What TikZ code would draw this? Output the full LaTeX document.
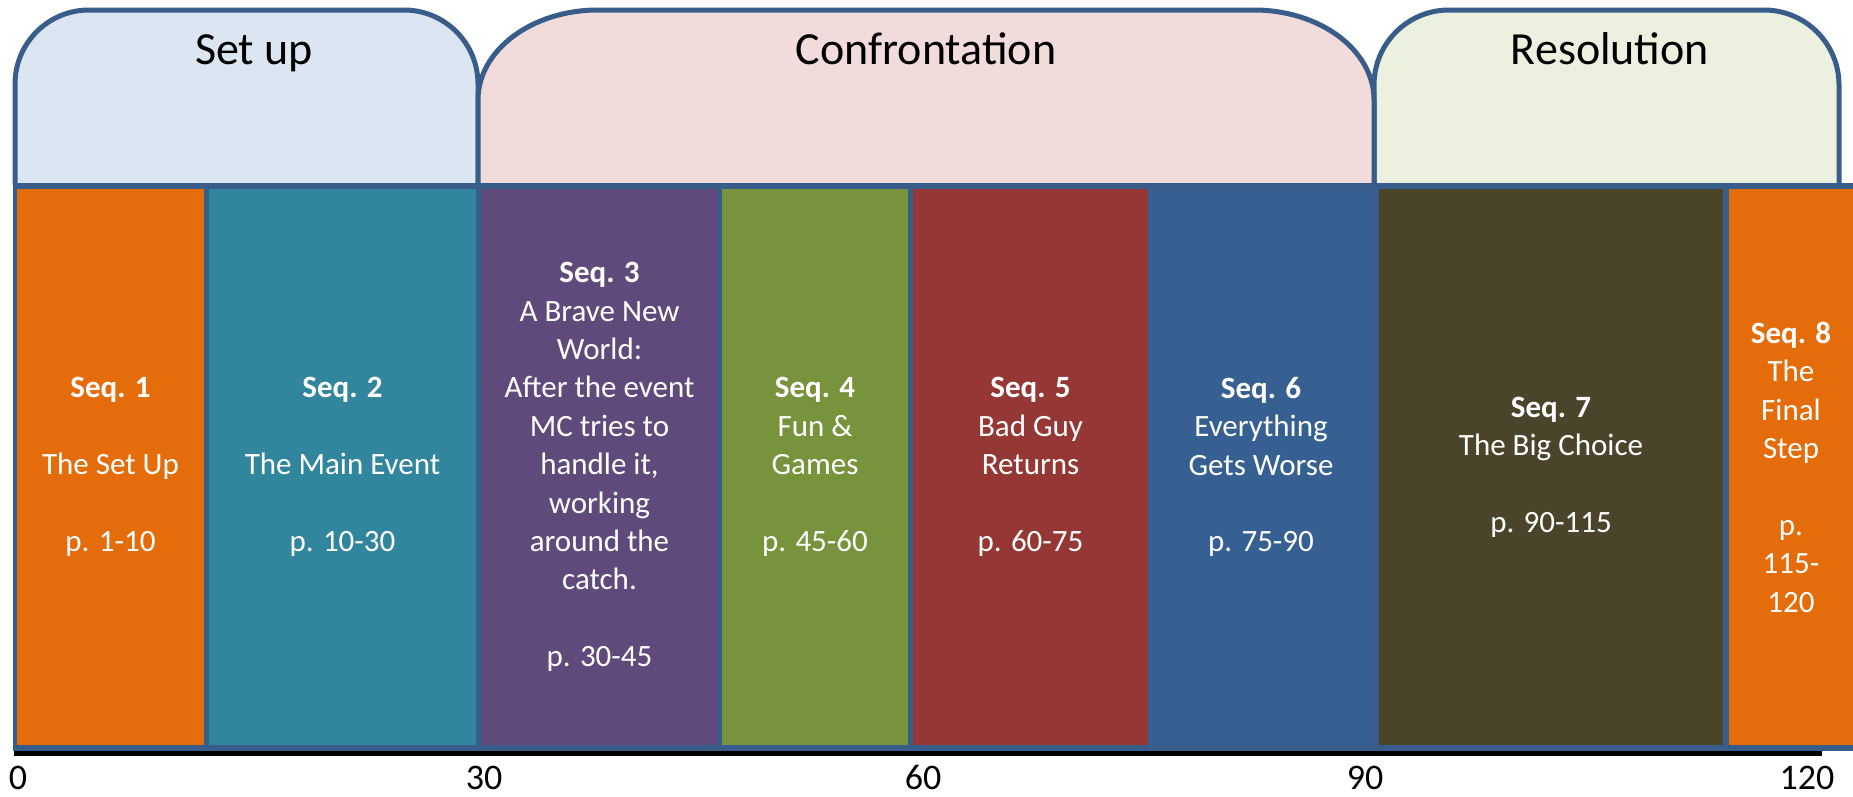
\documentclass[tikz,border=0pt]{standalone}
\usepackage{fontspec}
\setmainfont{Carlito}
\usepackage{xcolor}
\usepackage{tikz}

\definecolor{frameblue}{HTML}{385D8A}
\definecolor{setupfill}{HTML}{DCE6F2}
\definecolor{conffill}{HTML}{F2DCDB}
\definecolor{resfill}{HTML}{EBF1DE}
\definecolor{seqorange}{HTML}{E46C0A}
\definecolor{seqteal}{HTML}{31859C}
\definecolor{seqpurple}{HTML}{604A7B}
\definecolor{seqgreen}{HTML}{77933C}
\definecolor{seqred}{HTML}{953735}
\definecolor{seqblue}{HTML}{376092}
\definecolor{seqolive}{HTML}{4A452A}

\tikzset{
  tabline/.style={draw=frameblue,line width=5pt},
  actlabel/.style={anchor=base,font=\fontsize{46}{52}\selectfont},
  seqbox/.style={rectangle,inner sep=0pt,minimum height=556pt,text=white,
                 align=center,font=\fontsize{31}{38.4}\selectfont},
  ticklabel/.style={anchor=base,inner sep=1pt,font=\fontsize{36}{40}\selectfont}
}

\begin{document}
\begin{tikzpicture}[x=1pt,y=-1pt]
                    \useasboundingbox (0,0) rectangle (1853,796);

                    % the three acts
                    \draw[tabline,fill=setupfill,rounded corners=74pt] (15,185) |- (478,10) -- (478,185);
                    \draw[tabline,fill=resfill,rounded corners=75pt] (1374,185) |- (1839,10) -- (1839,185);
                    \draw[tabline,fill=conffill] (478,185) -- (478,100) .. controls (478,50.3) and (531.7,10) .. (598,10)
                        -- (1254,10) .. controls (1320.3,10) and (1374,50.3) .. (1374,100) -- (1374,185);

                    \node[actlabel] (setup) at (254,64) {Set up};
                    \node[actlabel] (confrontation) at (926,64) {Confrontation};
                    \node[actlabel] (resolution) at (1610,64) {Resolution};

                    % page axis
                    \draw[line width=5pt] (14,753) -- (1822,753);
                    \foreach \v/\x in {0/18,30/484,60/923,90/1365,120/1807}
                        \node[ticklabel] (tick\v) at (\x,789) {\v};

                    % band of sequences
                    \fill[frameblue] (13,183) rectangle (1860,751);
                    \node[seqbox,fill=seqorange,minimum width=187pt] (seq1) at (110.5,467) {\textbf{Seq. 1}\\[38.4pt]The Set Up\\[38.4pt]p. 1-10};
                    \node[seqbox,fill=seqteal,minimum width=267pt] (seq2) at (342.5,467) {\textbf{Seq. 2}\\[38.4pt]The Main Event\\[38.4pt]p. 10-30};
                    \node[seqbox,fill=seqpurple,minimum width=235pt] (seq3) at (599.5,467) {\textbf{Seq. 3}\\A Brave New\\World:\\After the event\\MC tries to\\handle it,\\working\\around the\\catch.\\[38.4pt]p. 30-45};
                    \node[seqbox,fill=seqgreen,minimum width=186pt] (seq4) at (815,467) {\textbf{Seq. 4}\\Fun \&\\Games\\[38.4pt]p. 45-60};
                    \node[seqbox,fill=seqred,minimum width=235pt] (seq5) at (1030.5,467) {\textbf{Seq. 5}\\Bad Guy\\Returns\\[38.4pt]p. 60-75};
                    \node[seqbox,fill=seqblue,minimum width=226pt] (seq6) at (1261,467) {\textbf{Seq. 6}\\Everything\\Gets Worse\\[38.4pt]p. 75-90};
                    \node[seqbox,fill=seqolive,minimum width=344pt] (seq7) at (1551,467) {\textbf{Seq. 7}\\The Big Choice\\[38.4pt]p. 90-115};
                    \node[seqbox,fill=seqorange,minimum width=124pt] (seq8) at (1791,467) {\textbf{Seq. 8}\\The\\Final\\Step\\[38.4pt]p.\\115-\\120};
                \end{tikzpicture}
\end{document}
